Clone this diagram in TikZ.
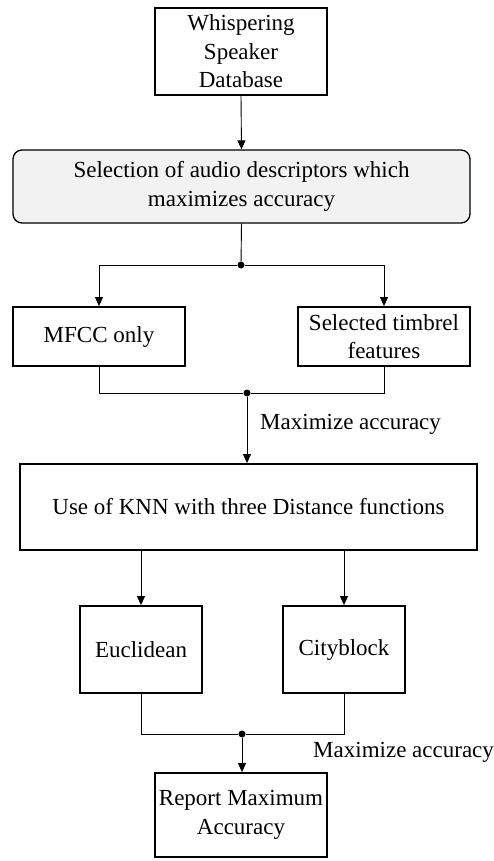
\documentclass[tikz,border=0pt]{standalone}
\usepackage{fontspec}
\setmainfont{Liberation Serif}
\usetikzlibrary{arrows.meta}
\begin{document}
\begin{tikzpicture}[x=1pt,y=-1pt,
  every node/.style={font=\fontsize{23}{28.5}\selectfont, align=center, inner sep=1pt},
  box/.style={draw, line width=1.8pt, minimum width=#1},
  flow/.style={line width=0.9pt, -{Triangle[length=9pt,width=8pt]}},
  link/.style={line width=0.9pt},
  junction/.style={circle, fill, inner sep=0pt, minimum size=7pt}]
\useasboundingbox (0,0) rectangle (494,861);
\node[box=172pt, minimum height=87pt] (db) at (241,51.5) {Whispering\\Speaker\\Database};
\node[box=457pt, minimum height=73pt, rounded corners=9pt, fill=gray!10, line width=1.3pt] (sel) at (241.5,186.5)
  {Selection of audio descriptors which\\maximizes accuracy};
\node[box=172pt, minimum height=59pt] (mfcc) at (99,336.5) {MFCC only};
\node[box=172pt, minimum height=59pt] (timb) at (384,336.5) {Selected timbrel\\features};
\node[box=457pt, minimum height=86pt] (knn) at (248.5,507) {Use of KNN with three Distance functions};
\node[box=122pt, minimum height=87pt] (euc) at (141,649.5) {Euclidean};
\node[box=122pt, minimum height=87pt] (city) at (344,649.5) {Cityblock};
\node[box=172pt, minimum height=84pt] (rep) at (241,815) {Report Maximum\\Accuracy};

\node[junction] (j1) at (241,265) {};
\node[junction] (j2) at (247,393) {};
\node[junction] (j3) at (242,734) {};

\node[anchor=west] (lab1) at (259,424) {Maximize accuracy};
\node[anchor=west] (lab2) at (312,752) {Maximize accuracy};

\draw[flow] (db.south) -- (sel.north);
\draw[link] (sel.south) -- (j1);
\draw[flow] (j1) -| (mfcc.north);
\draw[flow] (j1) -| (timb.north);
\draw[link] (mfcc.south) |- (j2) -| (timb.south);
\draw[flow] (j2) -- (j2 |- knn.north);
\draw[flow] (euc.north |- knn.south) -- (euc.north);
\draw[flow] (city.north |- knn.south) -- (city.north);
\draw[link] (euc.south) |- (j3) -| (city.south);
\draw[flow] (j3) -- (j3 |- rep.north);
\end{tikzpicture}
\end{document}
